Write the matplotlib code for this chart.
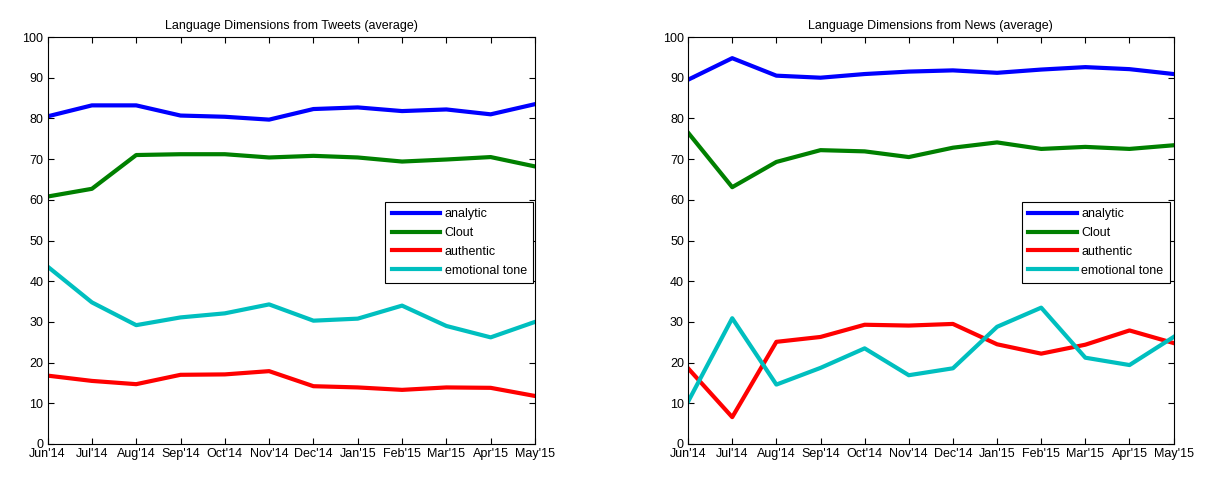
import numpy as np
import matplotlib.pyplot as plt

plt.rcParams['font.family'] = ['Liberation Sans', 'DejaVu Sans']

months = ["Jun'14", "Jul'14", "Aug'14", "Sep'14", "Oct'14", "Nov'14",
          "Dec'14", "Jan'15", "Feb'15", "Mar'15", "Apr'15", "May'15"]

tweets_analytic = [80.5, 83.2, 83.2, 80.7, 80.4, 79.7, 82.3, 82.7, 81.8, 82.2, 81.0, 83.5]
tweets_clout = [60.8, 62.7, 71.0, 71.2, 71.2, 70.4, 70.8, 70.4, 69.4, 69.9, 70.5, 68.2]
tweets_authentic = [16.8, 15.5, 14.7, 17.0, 17.1, 17.9, 14.2, 13.9, 13.3, 13.9, 13.8, 11.8]
tweets_tone = [43.6, 34.8, 29.2, 31.1, 32.1, 34.3, 30.3, 30.8, 34.0, 29.0, 26.2, 30.0]

news_analytic = [89.5, 94.8, 90.5, 90.0, 90.9, 91.5, 91.8, 91.2, 92.0, 92.6, 92.1, 90.9]
news_clout = [76.5, 63.1, 69.3, 72.2, 71.9, 70.5, 72.8, 74.1, 72.5, 73.0, 72.5, 73.4]
news_authentic = [18.6, 6.6, 25.1, 26.3, 29.3, 29.1, 29.5, 24.5, 22.2, 24.4, 27.9, 24.8]
news_tone = [10.4, 30.9, 14.6, 18.7, 23.5, 16.9, 18.6, 28.8, 33.5, 21.2, 19.4, 26.3]

labels = ['analytic', 'Clout', 'authentic', 'emotional tone']
colors = ['#0000ff', '#008000', '#ff0000', '#00bfbf']

fig = plt.figure(figsize=(12.2, 5.0), dpi=100)
ax1 = fig.add_axes([0.039, 0.112, 0.3995, 0.814])
ax2 = fig.add_axes([0.564, 0.112, 0.398, 0.814])

panels = [
    (ax1, 'Language Dimensions from Tweets (average)',
     [tweets_analytic, tweets_clout, tweets_authentic, tweets_tone], 0.996),
    (ax2, 'Language Dimensions from News (average)',
     [news_analytic, news_clout, news_authentic, news_tone], 0.992),
]

x = np.arange(len(months))
for ax, title, series, lx in panels:
    for vals, lab, col in zip(series, labels, colors):
        ax.plot(x, vals, color=col, linewidth=3, label=lab)
    ax.set_xlim(0, len(months) - 1)
    ax.set_ylim(0, 100)
    ax.set_yticks(range(0, 101, 10))
    ax.set_xticks(x)
    ax.set_xticklabels(months)
    ax.tick_params(direction='in', top=True, right=True, labelsize=9, length=4, pad=3)
    ax.set_title(title, fontsize=9, pad=6)
    for sp in ax.spines.values():
        sp.set_linewidth(0.8)
    leg = ax.legend(loc='upper right', bbox_to_anchor=(lx, 0.595), borderaxespad=0,
                    fontsize=9, fancybox=False, framealpha=1, edgecolor='black',
                    handlelength=3.9, handletextpad=0.35, borderpad=0.5,
                    labelspacing=0.55)
    leg.get_frame().set_linewidth(0.8)

fig.savefig('out.png', dpi=100)
